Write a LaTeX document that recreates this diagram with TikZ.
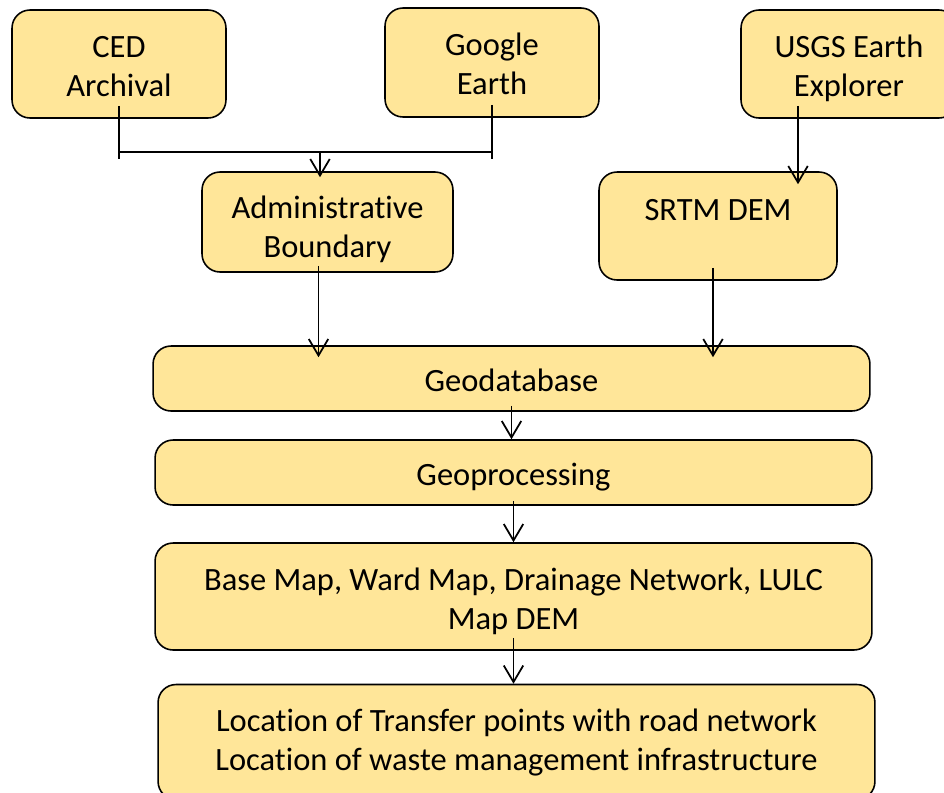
\documentclass[tikz,border=0pt]{standalone}
\usepackage{fontspec}
\setmainfont{Carlito}[Ligatures=CommonOff]
\usepackage{tikz}
\usepackage[dvipsnames]{xcolor}
\usetikzlibrary{positioning, calc}
\usetikzlibrary{arrows.meta}
\definecolor{boxgold}{HTML}{FFE699}

\begin{document}
\begin{tikzpicture}[>={Straight Barb[length=3.3mm, width=3.9mm]}, x=0.02cm, y=-0.02cm,
  box/.style={draw, line width=0.9pt, fill=boxgold, rounded corners=0.36cm,
    align=center, inner sep=0pt, text height=1.394cm, text depth=0.1cm,
    font=\fontsize{18.5}{22.3}\selectfont},
  oneline/.style={text height=0.56cm},
  link/.style={line width=1pt}]

  % --- Cornice ---
  \useasboundingbox (0,0) rectangle (944,792);
  \clip (0,0) rectangle (944,792);

  % --- Sorgenti ---
  \node[box, minimum width=4.28cm, minimum height=2.16cm] (ced) at (119,64) {CED\\Archival};
  \node[box, minimum width=4.28cm, minimum height=2.18cm] (google) at (492,62.5) {Google\\Earth};
  \node[box, minimum width=4.32cm, minimum height=2.16cm, text height=1.414cm] (usgs) at (849,64)
    {USGS Earth\\Explorer};

  % --- Livello intermedio ---
  \node[box, minimum width=5.02cm, minimum height=2.0cm, text height=1.534cm] (admin) at (327.5,222)
    {Administrative\\Boundary};
  \node[box, oneline, minimum width=4.76cm, minimum height=2.16cm, text depth=0.78cm] (srtm) at (718,226)
    {SRTM DEM};

  % --- Catena centrale ---
  \node[box, oneline, minimum width=14.34cm, minimum height=1.3cm, text depth=0.04cm] (geodb) at (511.5,378.5)
    {Geodatabase};
  \node[box, oneline, minimum width=14.34cm, minimum height=1.3cm, text depth=0.04cm] (geoproc) at (513.5,472.5)
    {Geoprocessing};
  \node[box, minimum width=14.34cm, minimum height=2.14cm, text height=1.434cm] (base) at (513.5,596.5)
    {Base Map, Ward Map, Drainage Network, LULC\\Map DEM};
  \node[box, minimum width=14.34cm, minimum height=2.3cm, text height=1.254cm] (loc) at (516.5,742)
    {Location of Transfer points with road network\\Location of waste management infrastructure};

  % --- Raccordo CED / Google Earth ---
  \coordinate (join) at (320,152);
  \draw[link] ([yshift=0.26cm]ced.south) -- ([yshift=-0.8cm]ced.south);
  \draw[link] ([yshift=0.26cm]google.south) -- ([yshift=-0.82cm]google.south);
  \draw[link] (ced.south |- join) -- (google.south |- join);
  \draw[link, ->] (join) -- ([yshift=-0.12cm]admin.north -| join);

  % --- USGS -> SRTM ---
  \coordinate (u) at ([xshift=-1.02cm, yshift=0.26cm]usgs.south);
  \draw[link, ->] (u) -- ($(u |- srtm.north)+(0,-0.26cm)$);

  % --- Verso il geodatabase ---
  \coordinate (a1) at ([xshift=-0.18cm, yshift=0.14cm]admin.south);
  \draw[link, ->] (a1) -- ($(a1 |- geodb.north)+(0,-0.24cm)$);
  \coordinate (s1) at ([xshift=-0.1cm, yshift=0.26cm]srtm.south);
  \draw[link, ->] (s1) -- ($(s1 |- geodb.north)+(0,-0.24cm)$);

  % --- Catena verticale ---
  \coordinate (g1) at ([yshift=0.12cm]geodb.south);
  \draw[link, ->] (g1) -- (g1 |- geoproc.north);
  \coordinate (g2) at ([yshift=0.1cm]geoproc.south);
  \draw[link, ->] (g2) -- (g2 |- base.north);
  \coordinate (g3) at ([yshift=0.26cm]base.south);
  \draw[link, ->] (g3) -- (g3 |- loc.north);

\end{tikzpicture}
\end{document}
